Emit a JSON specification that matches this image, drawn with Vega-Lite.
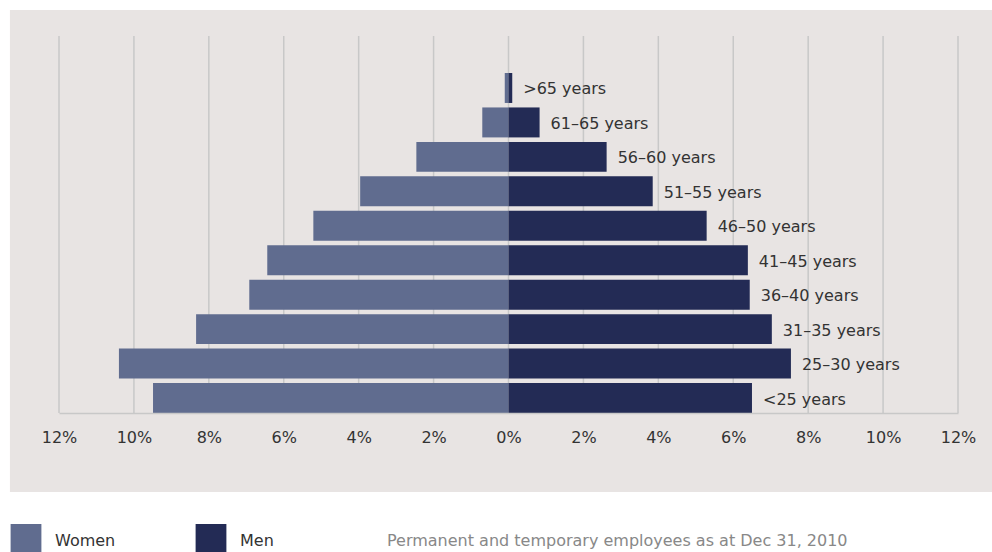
{
  "$schema": "https://vega.github.io/schema/vega-lite/v6.json",
  "width": 899,
  "height": 377,
  "autosize": {"type": "none"},
  "padding": {"left": 59, "top": 36, "right": 34, "bottom": 139},
  "background": "white",
  "config": {"view": {"stroke": null}, "font": "DejaVu Sans"},
  "datasets": {
    "pop": [
      {"age": ">65 years", "sex": "Women", "share": -0.1},
      {"age": ">65 years", "sex": "Men", "share": 0.1},
      {"age": "61–65 years", "sex": "Women", "share": -0.7},
      {"age": "61–65 years", "sex": "Men", "share": 0.83},
      {"age": "56–60 years", "sex": "Women", "share": -2.46},
      {"age": "56–60 years", "sex": "Men", "share": 2.62},
      {"age": "51–55 years", "sex": "Women", "share": -3.96},
      {"age": "51–55 years", "sex": "Men", "share": 3.85},
      {"age": "46–50 years", "sex": "Women", "share": -5.21},
      {"age": "46–50 years", "sex": "Men", "share": 5.29},
      {"age": "41–45 years", "sex": "Women", "share": -6.44},
      {"age": "41–45 years", "sex": "Men", "share": 6.39},
      {"age": "36–40 years", "sex": "Women", "share": -6.92},
      {"age": "36–40 years", "sex": "Men", "share": 6.44},
      {"age": "31–35 years", "sex": "Women", "share": -8.34},
      {"age": "31–35 years", "sex": "Men", "share": 7.03},
      {"age": "25–30 years", "sex": "Women", "share": -10.4},
      {"age": "25–30 years", "sex": "Men", "share": 7.54},
      {"age": "<25 years", "sex": "Women", "share": -9.49},
      {"age": "<25 years", "sex": "Men", "share": 6.5}
    ],
    "ticks": [
      {"tick": -12}, {"tick": -10}, {"tick": -8}, {"tick": -6}, {"tick": -4}, {"tick": -2},
      {"tick": 0}, {"tick": 2}, {"tick": 4}, {"tick": 6}, {"tick": 8}, {"tick": 10}, {"tick": 12}
    ]
  },
  "layer": [
    {
      "data": {"values": [{"panel": "panel"}]},
      "mark": {"type": "rect", "color": "#e8e4e3", "clip": false},
      "encoding": {
        "x": {
          "datum": -13.31,
          "type": "quantitative",
          "scale": {"domain": [-12, 12], "nice": false, "zero": false},
          "axis": {
            "values": [-12, -10, -8, -6, -4, -2, 0, 2, 4, 6, 8, 10, 12],
            "labelExpr": "abs(datum.value) + '%'",
            "grid": false,
            "ticks": false,
            "zindex": 1,
            "labelFlush": false,
            "labelOverlap": false,
            "labelBound": false,
            "domainColor": "#c8c8c8",
            "domainWidth": 1.5,
            "labelFontSize": 16,
            "labelColor": "#333333",
            "labelFont": "DejaVu Sans",
            "labelPadding": 16,
            "title": null
          }
        },
        "x2": {"datum": 12.91},
        "y": {
          "datum": 1.069,
          "type": "quantitative",
          "scale": {"domain": [0, 1], "nice": false, "zero": false},
          "axis": null
        },
        "y2": {"datum": -0.2095}
      }
    },
    {
      "data": {"name": "ticks"},
      "mark": {"type": "rule", "color": "#c8c8c8", "strokeWidth": 1.5},
      "encoding": {
        "x": {"field": "tick", "type": "quantitative", "title": null}
      }
    },
    {
      "data": {"name": "pop"},
      "layer": [
        {
          "mark": {"type": "bar"},
          "encoding": {
            "y": {
              "field": "age",
              "type": "nominal",
              "sort": null,
              "scale": {"paddingInner": 0.13, "paddingOuter": 0.537, "align": 1},
              "axis": null
            },
            "x": {"field": "share", "type": "quantitative", "stack": null, "title": null},
            "color": {
              "field": "sex",
              "type": "nominal",
              "scale": {"domain": ["Women", "Men"], "range": ["#606c8f", "#232b55"]},
              "legend": {
                "orient": "none",
                "legendX": -47,
                "legendY": 488,
                "direction": "horizontal",
                "columns": 2,
                "title": "Permanent and temporary employees as at Dec 31, 2010",
                "titleOrient": "right",
                "titleAnchor": "middle",
                "titleBaseline": "middle",
                "titlePadding": 113,
                "titleFontSize": 16,
                "titleFontWeight": "normal",
                "titleColor": "#888888",
                "titleFont": "DejaVu Sans",
                "titleLimit": 700,
                "symbolType": "M-1.1,-1H1.1V1H-1.1Z",
                "symbolSize": 784,
                "symbolStrokeWidth": 0,
                "symbolOpacity": 1,
                "labelFontSize": 16,
                "labelColor": "#333333",
                "labelFont": "DejaVu Sans",
                "labelOffset": 15,
                "columnPadding": 79,
                "encode": {
                  "labels": {"update": {"dy": {"value": 3}}},
                  "title": {"update": {"dy": {"value": 3}}}
                }
              }
            }
          }
        },
        {
          "transform": [{"filter": "datum.sex === 'Men'"}],
          "mark": {"type": "text", "align": "left", "baseline": "middle", "dx": 11, "dy": 1.5, "fontSize": 16, "color": "#333333", "font": "DejaVu Sans"},
          "encoding": {
            "y": {
              "field": "age",
              "type": "nominal",
              "sort": null,
              "scale": {"paddingInner": 0.13, "paddingOuter": 0.537, "align": 1},
              "axis": null
            },
            "x": {"field": "share", "type": "quantitative", "title": null},
            "text": {"field": "age"}
          }
        }
      ]
    }
  ],
  "resolve": {"scale": {"y": "independent"}}
}
